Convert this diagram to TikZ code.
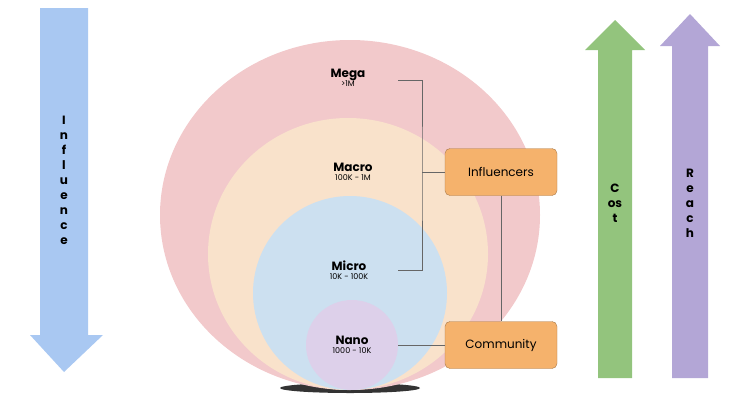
\documentclass[tikz,border=0pt]{standalone}
\usepackage{fontspec}
\setmainfont{Poppins}
\usetikzlibrary{positioning,shapes.arrows}
\definecolor{megac}{HTML}{F2C9CB}
\definecolor{macroc}{HTML}{F9E2CB}
\definecolor{microc}{HTML}{CCE0F0}
\definecolor{nanoc}{HTML}{DDD0EA}
\definecolor{boxc}{HTML}{F5B26C}
\definecolor{boxd}{HTML}{A87A4A}
\definecolor{infc}{HTML}{A9C8F2}
\definecolor{costc}{HTML}{93C47D}
\definecolor{reachc}{HTML}{B3A6D6}
\tikzset{
  group/.style={draw=boxd,fill=boxc,rounded corners=5pt,minimum width=112pt,minimum height=47pt,font=\large},
  tier/.style={align=center,font=\large\bfseries},
  link/.style={draw=gray!80!black,thin},
  letters/.style={align=center,font=\bfseries\large,inner sep=0pt}
}
\begin{document}
\begin{tikzpicture}[x=1pt,y=-1pt]
  \useasboundingbox (0,0) rectangle (744,402);
  % arrows
  \fill[infc] (40,8) -- (88,8) -- (88,335) -- (103,335) -- (64,372) -- (30,335) -- (40,335) -- cycle;
  \fill[costc] (598,378) -- (632,378) -- (632,50) -- (645,50) -- (615,20) -- (585,50) -- (598,50) -- cycle;
  \fill[reachc] (672,378) -- (708,378) -- (708,46) -- (720,46) -- (690,14) -- (660,46) -- (672,46) -- cycle;
  \node[letters] (influence) at (64,180) {I\\[1pt]n\\[1pt]f\\[1pt]l\\[1pt]u\\[1pt]e\\[1pt]n\\[1pt]c\\[1pt]e};
  \node[letters] (cost) at (615,203) {C\\[1pt]os\\[1pt]t};
  \node[letters] (reach) at (690,203) {R\\[1pt]e\\[1pt]a\\[1pt]c\\[1pt]h};
  % circles
  \fill[black!80] (350,388) ellipse (70 and 5);
  \fill[megac] (350,215) ellipse (190 and 175);
  \fill[macroc] (348,254) ellipse (140 and 136);
  \fill[microc] (350,293) ellipse (97 and 97);
  \fill[nanoc] (352,345) ellipse (46 and 45);
  \node[tier] (mega) at (348,78) {Mega\\[-5pt]{\footnotesize\mdseries >1M}};
  \node[tier] (macro) at (353,172) {Macro\\[-5pt]{\footnotesize\mdseries 100K - 1M}};
  \node[tier] (micro) at (349,270) {Micro\\[-5pt]{\footnotesize\mdseries 10K - 100K}};
  \node[tier] (nano) at (352,345) {Nano\\[-5pt]{\footnotesize\mdseries 1000 - 10K}};
  % boxes
  \node[group] (influencers) at (501,172) {Influencers};
  \node[group] (community) at (501,345) {Community};
  \coordinate (bk) at (422,172);
  \draw[link] (398,80) -| (bk) |- (398,270);
  \draw[link] (bk) -- (influencers.west);
  \draw[link] (influencers) -- (community);
  \draw[link] (398,345) -- (community.west);
\end{tikzpicture}
\end{document}
